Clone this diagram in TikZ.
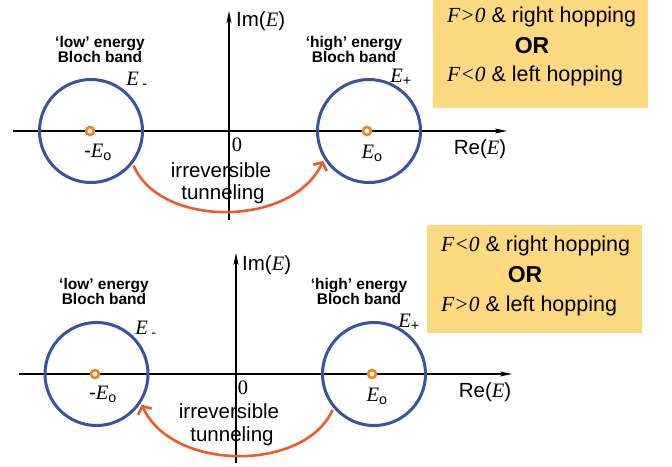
\documentclass[tikz,border=0pt]{standalone}
\usepackage{fontspec}
\setmainfont{Liberation Sans}
\newfontfamily\tms{Liberation Serif}
\usetikzlibrary{arrows.meta,positioning}

\definecolor{bandblue}{RGB}{57,83,164}
\definecolor{tunnelorange}{RGB}{241,90,36}
\definecolor{dotorange}{RGB}{245,130,32}
\definecolor{notegold}{RGB}{253,217,128}

\newcommand{\Ei}{{\tms\itshape E}}
\newcommand{\Fi}[1]{{\tms\itshape F#1}}

\begin{document}
\begin{tikzpicture}[
    x=1pt, y=-1pt,
    band/.style={circle, draw=bandblue, line width=3pt, minimum size=103pt, inner sep=0pt},
    axis/.style={line width=1.2pt, -{Stealth[length=12pt,width=5pt,inset=3pt]}},
    tunnel/.style={draw=tunnelorange, line width=2.6pt, -{Straight Barb[length=6pt,width=15pt]}, shorten <=2pt, shorten >=2pt},
    dot/.style={circle, draw=dotorange, fill=white, line width=2.6pt, minimum size=8pt, inner sep=0pt},
    bandlabel/.style={font=\bfseries\fontsize{15.5}{17}\selectfont, align=center},
    lbl/.style={font=\fontsize{20.5}{22}\selectfont, inner sep=0pt},
    notebox/.style={rectangle, fill=notegold, minimum width=215pt, minimum height=108pt, anchor=north west},
    noteline/.style={font=\fontsize{21.5}{23}\selectfont, anchor=west, inner sep=0pt},
    orline/.style={font=\bfseries\fontsize{23}{25}\selectfont, inner sep=0pt}
]
\useasboundingbox (0,0) rectangle (672,466);

% upper panel
\coordinate (reA0) at (13,131);
\coordinate (reA1) at (507,131);
\coordinate (imA0) at (229,220);
\coordinate (imA1) at (229,11);
\draw[axis] (reA0) -- (reA1);
\draw[axis] (imA0) -- (imA1);

\node[band] (lowA) at (91,131) {};
\node[band] (highA) at (369,131) {};
\node[dot] (dotlowA) at (90,131) {};
\node[dot] (dothighA) at (367,131) {};

\node[bandlabel] (lowtxtA) at (100,49) {‘low’ energy\\[-2pt]Bloch band};
\node[bandlabel] (hightxtA) at (354,49) {‘high’ energy\\[-2pt]Bloch band};
\node[lbl] (EmA) at (137,80) {\Ei\,\textsubscript{-}};
\node[lbl] (EpA) at (401,77) {\Ei\textsubscript{+}};
\node[lbl] (mEoA) at (98,152) {-\Ei\textsubscript{o}};
\node[lbl] (EoA) at (372,153) {\Ei\textsubscript{o}};
\node[lbl, anchor=west] (imlblA) at (236,21) {Im(\Ei)};
\node[lbl] (relblA) at (480,149) {Re(\Ei)};
\node[lbl] (zeroA) at (237,145) {\tms 0};
\node[lbl] (irrA) at (221,170) {irreversible};
\node[lbl] (tunA) at (223,194) {tunneling};

\draw[tunnel] (lowA.-38) .. controls (160,228) and (292,228) .. (highA.-148);

\node[notebox] (noteA) at (433,0) {};
\node[noteline] (condA1) at (447,17) {\Fi{>0} \& right hopping};
\node[orline] (orA) at (532,46) {OR};
\node[noteline] (condA2) at (447,76) {\Fi{<0} \& left hopping};

% lower panel
\coordinate (reB0) at (19,374);
\coordinate (reB1) at (512,374);
\coordinate (imB0) at (236,463);
\coordinate (imB1) at (236,253);
\draw[axis] (reB0) -- (reB1);
\draw[axis] (imB0) -- (imB1);

\node[band] (lowB) at (96.5,374) {};
\node[band] (highB) at (374,374) {};
\node[dot] (dotlowB) at (95,374) {};
\node[dot] (dothighB) at (372,374) {};

\node[bandlabel] (lowtxtB) at (104,291) {‘low’ energy\\[-2pt]Bloch band};
\node[bandlabel] (hightxtB) at (359,291) {‘high’ energy\\[-2pt]Bloch band};
\node[lbl] (EmB) at (146,329) {\Ei\,\textsubscript{-}};
\node[lbl] (EpB) at (409,322) {\Ei\textsubscript{+}};
\node[lbl] (mEoB) at (103,394) {-\Ei\textsubscript{o}};
\node[lbl] (EoB) at (377,396) {\Ei\textsubscript{o}};
\node[lbl, anchor=west] (imlblB) at (242,265) {Im(\Ei)};
\node[lbl] (relblB) at (485,392) {Re(\Ei)};
\node[lbl] (zeroB) at (243,388) {\tms 0};
\node[lbl] (irrB) at (229,411) {irreversible};
\node[lbl] (tunB) at (232,436) {tunneling};

\draw[tunnel] (highB.-140) .. controls (305,472) and (172,472) .. (lowB.-33);

\node[notebox] (noteB) at (427,225) {};
\node[noteline] (condB1) at (441,246) {\Fi{<0} \& right hopping};
\node[orline] (orB) at (525,275) {OR};
\node[noteline] (condB2) at (441,306) {\Fi{>0} \& left hopping};

\end{tikzpicture}
\end{document}
